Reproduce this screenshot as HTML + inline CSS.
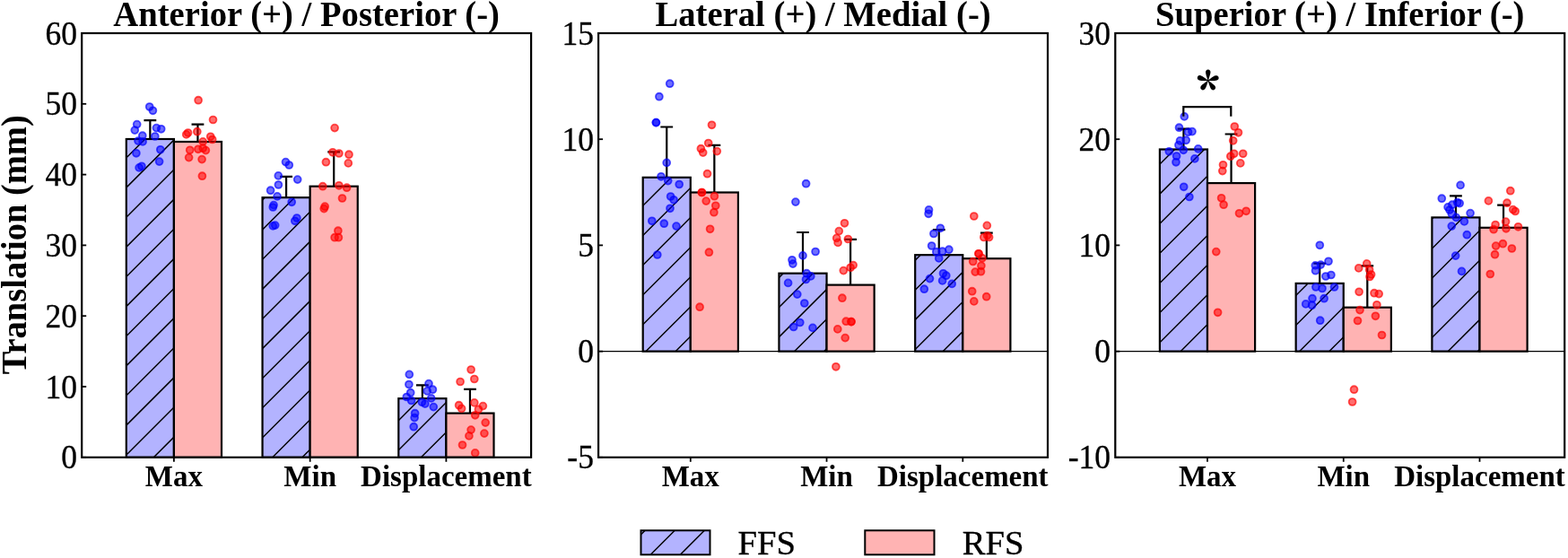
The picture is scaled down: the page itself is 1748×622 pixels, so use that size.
<!DOCTYPE html><html><head><meta charset="utf-8"><title>Translation</title><style>html,body{margin:0;padding:0;background:#fff;width:1748px;height:622px;overflow:hidden}svg{display:block}text{font-family:"Liberation Serif",serif}</style></head><body>
<svg width="1748" height="622" viewBox="0 0 1748 622">
<defs><clipPath id="c0"><rect x="140.8" y="155" width="53.1" height="354.8"/></clipPath><clipPath id="c1"><rect x="292.55" y="220.2" width="53.1" height="289.6"/></clipPath><clipPath id="c2"><rect x="444.3" y="444.2" width="53.1" height="65.6"/></clipPath><clipPath id="c3"><rect x="716.7" y="197.8" width="53.1" height="193.8"/></clipPath><clipPath id="c4"><rect x="868.45" y="304.7" width="53.1" height="86.9"/></clipPath><clipPath id="c5"><rect x="1020.2" y="284.2" width="53.1" height="107.4"/></clipPath><clipPath id="c6"><rect x="1292.9" y="166.5" width="53.1" height="225.1"/></clipPath><clipPath id="c7"><rect x="1444.65" y="315.9" width="53.1" height="75.7"/></clipPath><clipPath id="c8"><rect x="1596.4" y="242.4" width="53.1" height="149.2"/></clipPath><clipPath id="c9"><rect x="714.5" y="591.3" width="77" height="27"/></clipPath></defs>
<rect width="1748" height="622" fill="#fff"/>
<path d="M167.35,155 V134.2 M160.45,134.2 H174.25" stroke="#000" stroke-width="2.2" fill="none"/>
<rect x="140.8" y="155" width="53.1" height="354.8" fill="#b3b3ff"/>
<path clip-path="url(#c0)" d="M137.8,145.86 L196.9,86.76 M137.8,178.98 L196.9,119.88 M137.8,212.1 L196.9,153 M137.8,245.22 L196.9,186.12 M137.8,278.34 L196.9,219.24 M137.8,311.46 L196.9,252.36 M137.8,344.58 L196.9,285.48 M137.8,377.7 L196.9,318.6 M137.8,410.82 L196.9,351.72 M137.8,443.94 L196.9,384.84 M137.8,477.06 L196.9,417.96 M137.8,510.18 L196.9,451.08 M137.8,543.3 L196.9,484.2 M137.8,576.42 L196.9,517.32" stroke="#000" stroke-width="1.45" fill="none"/>
<rect x="140.8" y="155" width="53.1" height="354.8" fill="none" stroke="#000" stroke-width="2.2"/>
<path d="M220.45,158 V138.6 M213.55,138.6 H227.35" stroke="#000" stroke-width="2.2" fill="none"/>
<rect x="193.9" y="158" width="53.1" height="351.8" fill="#ffb3b3"/>
<rect x="193.9" y="158" width="53.1" height="351.8" fill="none" stroke="#000" stroke-width="2.2"/>
<circle cx="166.7" cy="119" r="3.95" fill="rgba(0,0,255,0.57)" stroke="rgba(0,0,255,0.66)" stroke-width="1.8"/>
<circle cx="170.4" cy="123.3" r="3.95" fill="rgba(0,0,255,0.57)" stroke="rgba(0,0,255,0.66)" stroke-width="1.8"/>
<circle cx="152.7" cy="138.6" r="3.95" fill="rgba(0,0,255,0.57)" stroke="rgba(0,0,255,0.66)" stroke-width="1.8"/>
<circle cx="150.3" cy="145.1" r="3.95" fill="rgba(0,0,255,0.57)" stroke="rgba(0,0,255,0.66)" stroke-width="1.8"/>
<circle cx="174.4" cy="142.6" r="3.95" fill="rgba(0,0,255,0.57)" stroke="rgba(0,0,255,0.66)" stroke-width="1.8"/>
<circle cx="179.7" cy="143.8" r="3.95" fill="rgba(0,0,255,0.57)" stroke="rgba(0,0,255,0.66)" stroke-width="1.8"/>
<circle cx="158.8" cy="151.2" r="3.95" fill="rgba(0,0,255,0.57)" stroke="rgba(0,0,255,0.66)" stroke-width="1.8"/>
<circle cx="172.8" cy="152" r="3.95" fill="rgba(0,0,255,0.57)" stroke="rgba(0,0,255,0.66)" stroke-width="1.8"/>
<circle cx="154" cy="157.1" r="3.95" fill="rgba(0,0,255,0.57)" stroke="rgba(0,0,255,0.66)" stroke-width="1.8"/>
<circle cx="159.1" cy="157.9" r="3.95" fill="rgba(0,0,255,0.57)" stroke="rgba(0,0,255,0.66)" stroke-width="1.8"/>
<circle cx="151.9" cy="170.8" r="3.95" fill="rgba(0,0,255,0.57)" stroke="rgba(0,0,255,0.66)" stroke-width="1.8"/>
<circle cx="178.8" cy="166.8" r="3.95" fill="rgba(0,0,255,0.57)" stroke="rgba(0,0,255,0.66)" stroke-width="1.8"/>
<circle cx="177.6" cy="180.1" r="3.95" fill="rgba(0,0,255,0.57)" stroke="rgba(0,0,255,0.66)" stroke-width="1.8"/>
<circle cx="155.1" cy="186.9" r="3.95" fill="rgba(0,0,255,0.57)" stroke="rgba(0,0,255,0.66)" stroke-width="1.8"/>
<circle cx="157.9" cy="185.3" r="3.95" fill="rgba(0,0,255,0.57)" stroke="rgba(0,0,255,0.66)" stroke-width="1.8"/>
<circle cx="221.1" cy="111.7" r="3.95" fill="rgba(255,0,0,0.57)" stroke="rgba(255,0,0,0.66)" stroke-width="1.8"/>
<circle cx="237.5" cy="133.5" r="3.95" fill="rgba(255,0,0,0.57)" stroke="rgba(255,0,0,0.66)" stroke-width="1.8"/>
<circle cx="209.6" cy="148" r="3.95" fill="rgba(255,0,0,0.57)" stroke="rgba(255,0,0,0.66)" stroke-width="1.8"/>
<circle cx="207.7" cy="149.9" r="3.95" fill="rgba(255,0,0,0.57)" stroke="rgba(255,0,0,0.66)" stroke-width="1.8"/>
<circle cx="219.8" cy="146.7" r="3.95" fill="rgba(255,0,0,0.57)" stroke="rgba(255,0,0,0.66)" stroke-width="1.8"/>
<circle cx="234.7" cy="152.3" r="3.95" fill="rgba(255,0,0,0.57)" stroke="rgba(255,0,0,0.66)" stroke-width="1.8"/>
<circle cx="236.7" cy="155.5" r="3.95" fill="rgba(255,0,0,0.57)" stroke="rgba(255,0,0,0.66)" stroke-width="1.8"/>
<circle cx="226.2" cy="157.9" r="3.95" fill="rgba(255,0,0,0.57)" stroke="rgba(255,0,0,0.66)" stroke-width="1.8"/>
<circle cx="211.7" cy="167.3" r="3.95" fill="rgba(255,0,0,0.57)" stroke="rgba(255,0,0,0.66)" stroke-width="1.8"/>
<circle cx="220.9" cy="166.3" r="3.95" fill="rgba(255,0,0,0.57)" stroke="rgba(255,0,0,0.66)" stroke-width="1.8"/>
<circle cx="226.2" cy="165.2" r="3.95" fill="rgba(255,0,0,0.57)" stroke="rgba(255,0,0,0.66)" stroke-width="1.8"/>
<circle cx="229.4" cy="167.6" r="3.95" fill="rgba(255,0,0,0.57)" stroke="rgba(255,0,0,0.66)" stroke-width="1.8"/>
<circle cx="210.6" cy="175.6" r="3.95" fill="rgba(255,0,0,0.57)" stroke="rgba(255,0,0,0.66)" stroke-width="1.8"/>
<circle cx="225.1" cy="177.6" r="3.95" fill="rgba(255,0,0,0.57)" stroke="rgba(255,0,0,0.66)" stroke-width="1.8"/>
<circle cx="225.4" cy="196.2" r="3.95" fill="rgba(255,0,0,0.57)" stroke="rgba(255,0,0,0.66)" stroke-width="1.8"/>
<line x1="193.9" y1="509.8" x2="193.9" y2="514.8" stroke="#000" stroke-width="1.8"/>
<path d="M319.1,220.2 V196.9 M312.2,196.9 H326" stroke="#000" stroke-width="2.2" fill="none"/>
<rect x="292.55" y="220.2" width="53.1" height="289.6" fill="#b3b3ff"/>
<path clip-path="url(#c1)" d="M289.55,192.83 L348.65,133.73 M289.55,225.95 L348.65,166.85 M289.55,259.07 L348.65,199.97 M289.55,292.19 L348.65,233.09 M289.55,325.31 L348.65,266.21 M289.55,358.43 L348.65,299.33 M289.55,391.55 L348.65,332.45 M289.55,424.67 L348.65,365.57 M289.55,457.79 L348.65,398.69 M289.55,490.91 L348.65,431.81 M289.55,524.03 L348.65,464.93 M289.55,557.15 L348.65,498.05 M289.55,590.27 L348.65,531.17" stroke="#000" stroke-width="1.45" fill="none"/>
<rect x="292.55" y="220.2" width="53.1" height="289.6" fill="none" stroke="#000" stroke-width="2.2"/>
<path d="M372.2,207.7 V169.3 M365.3,169.3 H379.1" stroke="#000" stroke-width="2.2" fill="none"/>
<rect x="345.65" y="207.7" width="53.1" height="302.1" fill="#ffb3b3"/>
<rect x="345.65" y="207.7" width="53.1" height="302.1" fill="none" stroke="#000" stroke-width="2.2"/>
<circle cx="318.5" cy="180.6" r="3.95" fill="rgba(0,0,255,0.57)" stroke="rgba(0,0,255,0.66)" stroke-width="1.8"/>
<circle cx="322.3" cy="184" r="3.95" fill="rgba(0,0,255,0.57)" stroke="rgba(0,0,255,0.66)" stroke-width="1.8"/>
<circle cx="310.3" cy="195.9" r="3.95" fill="rgba(0,0,255,0.57)" stroke="rgba(0,0,255,0.66)" stroke-width="1.8"/>
<circle cx="331.7" cy="200.1" r="3.95" fill="rgba(0,0,255,0.57)" stroke="rgba(0,0,255,0.66)" stroke-width="1.8"/>
<circle cx="310.4" cy="206" r="3.95" fill="rgba(0,0,255,0.57)" stroke="rgba(0,0,255,0.66)" stroke-width="1.8"/>
<circle cx="301.6" cy="212.2" r="3.95" fill="rgba(0,0,255,0.57)" stroke="rgba(0,0,255,0.66)" stroke-width="1.8"/>
<circle cx="309.1" cy="218.9" r="3.95" fill="rgba(0,0,255,0.57)" stroke="rgba(0,0,255,0.66)" stroke-width="1.8"/>
<circle cx="305.1" cy="228.6" r="3.95" fill="rgba(0,0,255,0.57)" stroke="rgba(0,0,255,0.66)" stroke-width="1.8"/>
<circle cx="304.3" cy="231" r="3.95" fill="rgba(0,0,255,0.57)" stroke="rgba(0,0,255,0.66)" stroke-width="1.8"/>
<circle cx="325.2" cy="225.3" r="3.95" fill="rgba(0,0,255,0.57)" stroke="rgba(0,0,255,0.66)" stroke-width="1.8"/>
<circle cx="330.9" cy="243" r="3.95" fill="rgba(0,0,255,0.57)" stroke="rgba(0,0,255,0.66)" stroke-width="1.8"/>
<circle cx="328.8" cy="246.3" r="3.95" fill="rgba(0,0,255,0.57)" stroke="rgba(0,0,255,0.66)" stroke-width="1.8"/>
<circle cx="304.3" cy="251.9" r="3.95" fill="rgba(0,0,255,0.57)" stroke="rgba(0,0,255,0.66)" stroke-width="1.8"/>
<circle cx="306.7" cy="251.1" r="3.95" fill="rgba(0,0,255,0.57)" stroke="rgba(0,0,255,0.66)" stroke-width="1.8"/>
<circle cx="373.1" cy="142.6" r="3.95" fill="rgba(255,0,0,0.57)" stroke="rgba(255,0,0,0.66)" stroke-width="1.8"/>
<circle cx="370.9" cy="169.8" r="3.95" fill="rgba(255,0,0,0.57)" stroke="rgba(255,0,0,0.66)" stroke-width="1.8"/>
<circle cx="377.9" cy="171" r="3.95" fill="rgba(255,0,0,0.57)" stroke="rgba(255,0,0,0.66)" stroke-width="1.8"/>
<circle cx="389" cy="172.2" r="3.95" fill="rgba(255,0,0,0.57)" stroke="rgba(255,0,0,0.66)" stroke-width="1.8"/>
<circle cx="363.4" cy="180.7" r="3.95" fill="rgba(255,0,0,0.57)" stroke="rgba(255,0,0,0.66)" stroke-width="1.8"/>
<circle cx="388.3" cy="181.9" r="3.95" fill="rgba(255,0,0,0.57)" stroke="rgba(255,0,0,0.66)" stroke-width="1.8"/>
<circle cx="359.8" cy="207.7" r="3.95" fill="rgba(255,0,0,0.57)" stroke="rgba(255,0,0,0.66)" stroke-width="1.8"/>
<circle cx="377.9" cy="206.8" r="3.95" fill="rgba(255,0,0,0.57)" stroke="rgba(255,0,0,0.66)" stroke-width="1.8"/>
<circle cx="386.6" cy="209.2" r="3.95" fill="rgba(255,0,0,0.57)" stroke="rgba(255,0,0,0.66)" stroke-width="1.8"/>
<circle cx="381.5" cy="221" r="3.95" fill="rgba(255,0,0,0.57)" stroke="rgba(255,0,0,0.66)" stroke-width="1.8"/>
<circle cx="362.2" cy="230.2" r="3.95" fill="rgba(255,0,0,0.57)" stroke="rgba(255,0,0,0.66)" stroke-width="1.8"/>
<circle cx="361.2" cy="232.6" r="3.95" fill="rgba(255,0,0,0.57)" stroke="rgba(255,0,0,0.66)" stroke-width="1.8"/>
<circle cx="376.9" cy="257.2" r="3.95" fill="rgba(255,0,0,0.57)" stroke="rgba(255,0,0,0.66)" stroke-width="1.8"/>
<circle cx="373.1" cy="264.7" r="3.95" fill="rgba(255,0,0,0.57)" stroke="rgba(255,0,0,0.66)" stroke-width="1.8"/>
<circle cx="377.4" cy="264.7" r="3.95" fill="rgba(255,0,0,0.57)" stroke="rgba(255,0,0,0.66)" stroke-width="1.8"/>
<line x1="345.65" y1="509.8" x2="345.65" y2="514.8" stroke="#000" stroke-width="1.8"/>
<path d="M470.85,444.2 V429.4 M463.95,429.4 H477.75" stroke="#000" stroke-width="2.2" fill="none"/>
<rect x="444.3" y="444.2" width="53.1" height="65.6" fill="#b3b3ff"/>
<path clip-path="url(#c2)" d="M441.3,438.52 L500.4,379.42 M441.3,471.64 L500.4,412.54 M441.3,504.76 L500.4,445.66 M441.3,537.88 L500.4,478.78 M441.3,571 L500.4,511.9" stroke="#000" stroke-width="1.45" fill="none"/>
<rect x="444.3" y="444.2" width="53.1" height="65.6" fill="none" stroke="#000" stroke-width="2.2"/>
<path d="M523.95,460.6 V433.8 M517.05,433.8 H530.85" stroke="#000" stroke-width="2.2" fill="none"/>
<rect x="497.4" y="460.6" width="53.1" height="49.2" fill="#ffb3b3"/>
<rect x="497.4" y="460.6" width="53.1" height="49.2" fill="none" stroke="#000" stroke-width="2.2"/>
<circle cx="456.3" cy="417.4" r="3.95" fill="rgba(0,0,255,0.57)" stroke="rgba(0,0,255,0.66)" stroke-width="1.8"/>
<circle cx="455.9" cy="428.5" r="3.95" fill="rgba(0,0,255,0.57)" stroke="rgba(0,0,255,0.66)" stroke-width="1.8"/>
<circle cx="478" cy="427.6" r="3.95" fill="rgba(0,0,255,0.57)" stroke="rgba(0,0,255,0.66)" stroke-width="1.8"/>
<circle cx="482.4" cy="434.2" r="3.95" fill="rgba(0,0,255,0.57)" stroke="rgba(0,0,255,0.66)" stroke-width="1.8"/>
<circle cx="476.2" cy="435.9" r="3.95" fill="rgba(0,0,255,0.57)" stroke="rgba(0,0,255,0.66)" stroke-width="1.8"/>
<circle cx="457.7" cy="437.7" r="3.95" fill="rgba(0,0,255,0.57)" stroke="rgba(0,0,255,0.66)" stroke-width="1.8"/>
<circle cx="453.3" cy="442.5" r="3.95" fill="rgba(0,0,255,0.57)" stroke="rgba(0,0,255,0.66)" stroke-width="1.8"/>
<circle cx="458.6" cy="446.5" r="3.95" fill="rgba(0,0,255,0.57)" stroke="rgba(0,0,255,0.66)" stroke-width="1.8"/>
<circle cx="480.7" cy="443.9" r="3.95" fill="rgba(0,0,255,0.57)" stroke="rgba(0,0,255,0.66)" stroke-width="1.8"/>
<circle cx="470.4" cy="448.3" r="3.95" fill="rgba(0,0,255,0.57)" stroke="rgba(0,0,255,0.66)" stroke-width="1.8"/>
<circle cx="473.9" cy="450.1" r="3.95" fill="rgba(0,0,255,0.57)" stroke="rgba(0,0,255,0.66)" stroke-width="1.8"/>
<circle cx="483.3" cy="453.6" r="3.95" fill="rgba(0,0,255,0.57)" stroke="rgba(0,0,255,0.66)" stroke-width="1.8"/>
<circle cx="462.6" cy="460.7" r="3.95" fill="rgba(0,0,255,0.57)" stroke="rgba(0,0,255,0.66)" stroke-width="1.8"/>
<circle cx="462.1" cy="465.6" r="3.95" fill="rgba(0,0,255,0.57)" stroke="rgba(0,0,255,0.66)" stroke-width="1.8"/>
<circle cx="461.2" cy="475.7" r="3.95" fill="rgba(0,0,255,0.57)" stroke="rgba(0,0,255,0.66)" stroke-width="1.8"/>
<circle cx="525.1" cy="412" r="3.95" fill="rgba(255,0,0,0.57)" stroke="rgba(255,0,0,0.66)" stroke-width="1.8"/>
<circle cx="513.1" cy="425.5" r="3.95" fill="rgba(255,0,0,0.57)" stroke="rgba(255,0,0,0.66)" stroke-width="1.8"/>
<circle cx="528.8" cy="422.5" r="3.95" fill="rgba(255,0,0,0.57)" stroke="rgba(255,0,0,0.66)" stroke-width="1.8"/>
<circle cx="511.6" cy="451.7" r="3.95" fill="rgba(255,0,0,0.57)" stroke="rgba(255,0,0,0.66)" stroke-width="1.8"/>
<circle cx="514.6" cy="455.4" r="3.95" fill="rgba(255,0,0,0.57)" stroke="rgba(255,0,0,0.66)" stroke-width="1.8"/>
<circle cx="528.8" cy="448.9" r="3.95" fill="rgba(255,0,0,0.57)" stroke="rgba(255,0,0,0.66)" stroke-width="1.8"/>
<circle cx="538.4" cy="452.6" r="3.95" fill="rgba(255,0,0,0.57)" stroke="rgba(255,0,0,0.66)" stroke-width="1.8"/>
<circle cx="533.4" cy="456.3" r="3.95" fill="rgba(255,0,0,0.57)" stroke="rgba(255,0,0,0.66)" stroke-width="1.8"/>
<circle cx="529.7" cy="462.8" r="3.95" fill="rgba(255,0,0,0.57)" stroke="rgba(255,0,0,0.66)" stroke-width="1.8"/>
<circle cx="541.2" cy="471.1" r="3.95" fill="rgba(255,0,0,0.57)" stroke="rgba(255,0,0,0.66)" stroke-width="1.8"/>
<circle cx="525.1" cy="479.1" r="3.95" fill="rgba(255,0,0,0.57)" stroke="rgba(255,0,0,0.66)" stroke-width="1.8"/>
<circle cx="522.9" cy="485.9" r="3.95" fill="rgba(255,0,0,0.57)" stroke="rgba(255,0,0,0.66)" stroke-width="1.8"/>
<circle cx="539.9" cy="483.1" r="3.95" fill="rgba(255,0,0,0.57)" stroke="rgba(255,0,0,0.66)" stroke-width="1.8"/>
<circle cx="515.5" cy="496" r="3.95" fill="rgba(255,0,0,0.57)" stroke="rgba(255,0,0,0.66)" stroke-width="1.8"/>
<circle cx="529.7" cy="504.9" r="3.95" fill="rgba(255,0,0,0.57)" stroke="rgba(255,0,0,0.66)" stroke-width="1.8"/>
<line x1="497.4" y1="509.8" x2="497.4" y2="514.8" stroke="#000" stroke-width="1.8"/>
<rect x="91.2" y="37" width="500.9" height="472.8" fill="none" stroke="#000" stroke-width="2.2"/>
<line x1="91.2" y1="509.8" x2="96.2" y2="509.8" stroke="#000" stroke-width="1.8"/>
<text transform="translate(86,522.3) scale(0.96,1)" font-size="37" text-anchor="end" stroke="#000" stroke-width="0.35">0</text>
<line x1="91.2" y1="431" x2="96.2" y2="431" stroke="#000" stroke-width="1.8"/>
<text transform="translate(86,443.5) scale(0.96,1)" font-size="37" text-anchor="end" stroke="#000" stroke-width="0.35">10</text>
<line x1="91.2" y1="352.2" x2="96.2" y2="352.2" stroke="#000" stroke-width="1.8"/>
<text transform="translate(86,364.7) scale(0.96,1)" font-size="37" text-anchor="end" stroke="#000" stroke-width="0.35">20</text>
<line x1="91.2" y1="273.4" x2="96.2" y2="273.4" stroke="#000" stroke-width="1.8"/>
<text transform="translate(86,285.9) scale(0.96,1)" font-size="37" text-anchor="end" stroke="#000" stroke-width="0.35">30</text>
<line x1="91.2" y1="194.6" x2="96.2" y2="194.6" stroke="#000" stroke-width="1.8"/>
<text transform="translate(86,207.1) scale(0.96,1)" font-size="37" text-anchor="end" stroke="#000" stroke-width="0.35">40</text>
<line x1="91.2" y1="115.8" x2="96.2" y2="115.8" stroke="#000" stroke-width="1.8"/>
<text transform="translate(86,128.3) scale(0.96,1)" font-size="37" text-anchor="end" stroke="#000" stroke-width="0.35">50</text>
<line x1="91.2" y1="37" x2="96.2" y2="37" stroke="#000" stroke-width="1.8"/>
<text transform="translate(86,49.5) scale(0.96,1)" font-size="37" text-anchor="end" stroke="#000" stroke-width="0.35">60</text>
<text transform="translate(341.65,29.0) scale(0.979,1)" font-size="39.5" font-weight="bold" text-anchor="middle">Anterior (+) / Posterior (-)</text>
<text x="193.9" y="542.3" font-size="33" font-weight="bold" text-anchor="middle">Max</text>
<text x="345.65" y="542.3" font-size="33" font-weight="bold" text-anchor="middle">Min</text>
<text x="497.4" y="542.3" font-size="33" font-weight="bold" text-anchor="middle">Displacement</text>
<line x1="667.1" y1="391.6" x2="1168" y2="391.6" stroke="#000" stroke-width="1.1"/>
<path d="M743.25,197.8 V141.5 M736.35,141.5 H750.15" stroke="#000" stroke-width="2.2" fill="none"/>
<rect x="716.7" y="197.8" width="53.1" height="193.8" fill="#b3b3ff"/>
<path clip-path="url(#c3)" d="M713.7,199.24 L772.8,140.14 M713.7,232.36 L772.8,173.26 M713.7,265.48 L772.8,206.38 M713.7,298.6 L772.8,239.5 M713.7,331.72 L772.8,272.62 M713.7,364.84 L772.8,305.74 M713.7,397.96 L772.8,338.86 M713.7,431.08 L772.8,371.98 M713.7,464.2 L772.8,405.1" stroke="#000" stroke-width="1.45" fill="none"/>
<rect x="716.7" y="197.8" width="53.1" height="193.8" fill="none" stroke="#000" stroke-width="2.2"/>
<path d="M796.35,214.5 V161.8 M789.45,161.8 H803.25" stroke="#000" stroke-width="2.2" fill="none"/>
<rect x="769.8" y="214.5" width="53.1" height="177.1" fill="#ffb3b3"/>
<rect x="769.8" y="214.5" width="53.1" height="177.1" fill="none" stroke="#000" stroke-width="2.2"/>
<circle cx="746.7" cy="93.2" r="3.95" fill="rgba(0,0,255,0.57)" stroke="rgba(0,0,255,0.66)" stroke-width="1.8"/>
<circle cx="734.9" cy="107.7" r="3.95" fill="rgba(0,0,255,0.57)" stroke="rgba(0,0,255,0.66)" stroke-width="1.8"/>
<circle cx="731.4" cy="136.6" r="3.95" fill="rgba(0,0,255,0.57)" stroke="rgba(0,0,255,0.66)" stroke-width="1.8"/>
<circle cx="731.4" cy="136.6" r="3.95" fill="rgba(0,0,255,0.57)" stroke="rgba(0,0,255,0.66)" stroke-width="1.8"/>
<circle cx="743.2" cy="181.4" r="3.95" fill="rgba(0,0,255,0.57)" stroke="rgba(0,0,255,0.66)" stroke-width="1.8"/>
<circle cx="737" cy="196.8" r="3.95" fill="rgba(0,0,255,0.57)" stroke="rgba(0,0,255,0.66)" stroke-width="1.8"/>
<circle cx="744.7" cy="201.6" r="3.95" fill="rgba(0,0,255,0.57)" stroke="rgba(0,0,255,0.66)" stroke-width="1.8"/>
<circle cx="757.2" cy="205.5" r="3.95" fill="rgba(0,0,255,0.57)" stroke="rgba(0,0,255,0.66)" stroke-width="1.8"/>
<circle cx="747.6" cy="219" r="3.95" fill="rgba(0,0,255,0.57)" stroke="rgba(0,0,255,0.66)" stroke-width="1.8"/>
<circle cx="751.1" cy="222.8" r="3.95" fill="rgba(0,0,255,0.57)" stroke="rgba(0,0,255,0.66)" stroke-width="1.8"/>
<circle cx="747" cy="232.3" r="3.95" fill="rgba(0,0,255,0.57)" stroke="rgba(0,0,255,0.66)" stroke-width="1.8"/>
<circle cx="726.8" cy="246.3" r="3.95" fill="rgba(0,0,255,0.57)" stroke="rgba(0,0,255,0.66)" stroke-width="1.8"/>
<circle cx="740.3" cy="249.2" r="3.95" fill="rgba(0,0,255,0.57)" stroke="rgba(0,0,255,0.66)" stroke-width="1.8"/>
<circle cx="754" cy="252.1" r="3.95" fill="rgba(0,0,255,0.57)" stroke="rgba(0,0,255,0.66)" stroke-width="1.8"/>
<circle cx="732.8" cy="284" r="3.95" fill="rgba(0,0,255,0.57)" stroke="rgba(0,0,255,0.66)" stroke-width="1.8"/>
<circle cx="793.5" cy="139.3" r="3.95" fill="rgba(255,0,0,0.57)" stroke="rgba(255,0,0,0.66)" stroke-width="1.8"/>
<circle cx="789.7" cy="159.5" r="3.95" fill="rgba(255,0,0,0.57)" stroke="rgba(255,0,0,0.66)" stroke-width="1.8"/>
<circle cx="781.4" cy="165.7" r="3.95" fill="rgba(255,0,0,0.57)" stroke="rgba(255,0,0,0.66)" stroke-width="1.8"/>
<circle cx="783.7" cy="170.1" r="3.95" fill="rgba(255,0,0,0.57)" stroke="rgba(255,0,0,0.66)" stroke-width="1.8"/>
<circle cx="799.3" cy="168.6" r="3.95" fill="rgba(255,0,0,0.57)" stroke="rgba(255,0,0,0.66)" stroke-width="1.8"/>
<circle cx="788.5" cy="193.7" r="3.95" fill="rgba(255,0,0,0.57)" stroke="rgba(255,0,0,0.66)" stroke-width="1.8"/>
<circle cx="782.4" cy="214.5" r="3.95" fill="rgba(255,0,0,0.57)" stroke="rgba(255,0,0,0.66)" stroke-width="1.8"/>
<circle cx="782.4" cy="214.5" r="3.95" fill="rgba(255,0,0,0.57)" stroke="rgba(255,0,0,0.66)" stroke-width="1.8"/>
<circle cx="787.2" cy="224.1" r="3.95" fill="rgba(255,0,0,0.57)" stroke="rgba(255,0,0,0.66)" stroke-width="1.8"/>
<circle cx="796.4" cy="218.7" r="3.95" fill="rgba(255,0,0,0.57)" stroke="rgba(255,0,0,0.66)" stroke-width="1.8"/>
<circle cx="797.8" cy="229.3" r="3.95" fill="rgba(255,0,0,0.57)" stroke="rgba(255,0,0,0.66)" stroke-width="1.8"/>
<circle cx="795.9" cy="236.7" r="3.95" fill="rgba(255,0,0,0.57)" stroke="rgba(255,0,0,0.66)" stroke-width="1.8"/>
<circle cx="791.6" cy="255.3" r="3.95" fill="rgba(255,0,0,0.57)" stroke="rgba(255,0,0,0.66)" stroke-width="1.8"/>
<circle cx="790.4" cy="281.2" r="3.95" fill="rgba(255,0,0,0.57)" stroke="rgba(255,0,0,0.66)" stroke-width="1.8"/>
<circle cx="780.1" cy="342.2" r="3.95" fill="rgba(255,0,0,0.57)" stroke="rgba(255,0,0,0.66)" stroke-width="1.8"/>
<line x1="769.8" y1="509.8" x2="769.8" y2="514.8" stroke="#000" stroke-width="1.8"/>
<path d="M895,304.7 V259 M888.1,259 H901.9" stroke="#000" stroke-width="2.2" fill="none"/>
<rect x="868.45" y="304.7" width="53.1" height="86.9" fill="#b3b3ff"/>
<path clip-path="url(#c4)" d="M865.45,279.33 L924.55,220.23 M865.45,312.45 L924.55,253.35 M865.45,345.57 L924.55,286.47 M865.45,378.69 L924.55,319.59 M865.45,411.81 L924.55,352.71 M865.45,444.93 L924.55,385.83 M865.45,478.05 L924.55,418.95" stroke="#000" stroke-width="1.45" fill="none"/>
<rect x="868.45" y="304.7" width="53.1" height="86.9" fill="none" stroke="#000" stroke-width="2.2"/>
<path d="M948.1,317.6 V266.8 M941.2,266.8 H955" stroke="#000" stroke-width="2.2" fill="none"/>
<rect x="921.55" y="317.6" width="53.1" height="74" fill="#ffb3b3"/>
<rect x="921.55" y="317.6" width="53.1" height="74" fill="none" stroke="#000" stroke-width="2.2"/>
<circle cx="898.6" cy="204.7" r="3.95" fill="rgba(0,0,255,0.57)" stroke="rgba(0,0,255,0.66)" stroke-width="1.8"/>
<circle cx="886.9" cy="225.1" r="3.95" fill="rgba(0,0,255,0.57)" stroke="rgba(0,0,255,0.66)" stroke-width="1.8"/>
<circle cx="909.1" cy="280.5" r="3.95" fill="rgba(0,0,255,0.57)" stroke="rgba(0,0,255,0.66)" stroke-width="1.8"/>
<circle cx="895" cy="284.9" r="3.95" fill="rgba(0,0,255,0.57)" stroke="rgba(0,0,255,0.66)" stroke-width="1.8"/>
<circle cx="883" cy="289.8" r="3.95" fill="rgba(0,0,255,0.57)" stroke="rgba(0,0,255,0.66)" stroke-width="1.8"/>
<circle cx="883.9" cy="294.1" r="3.95" fill="rgba(0,0,255,0.57)" stroke="rgba(0,0,255,0.66)" stroke-width="1.8"/>
<circle cx="899.2" cy="304.7" r="3.95" fill="rgba(0,0,255,0.57)" stroke="rgba(0,0,255,0.66)" stroke-width="1.8"/>
<circle cx="903.8" cy="307.9" r="3.95" fill="rgba(0,0,255,0.57)" stroke="rgba(0,0,255,0.66)" stroke-width="1.8"/>
<circle cx="898.5" cy="311.5" r="3.95" fill="rgba(0,0,255,0.57)" stroke="rgba(0,0,255,0.66)" stroke-width="1.8"/>
<circle cx="878.6" cy="315.4" r="3.95" fill="rgba(0,0,255,0.57)" stroke="rgba(0,0,255,0.66)" stroke-width="1.8"/>
<circle cx="888.8" cy="328.1" r="3.95" fill="rgba(0,0,255,0.57)" stroke="rgba(0,0,255,0.66)" stroke-width="1.8"/>
<circle cx="896.8" cy="338" r="3.95" fill="rgba(0,0,255,0.57)" stroke="rgba(0,0,255,0.66)" stroke-width="1.8"/>
<circle cx="891.8" cy="359.5" r="3.95" fill="rgba(0,0,255,0.57)" stroke="rgba(0,0,255,0.66)" stroke-width="1.8"/>
<circle cx="884.7" cy="364.5" r="3.95" fill="rgba(0,0,255,0.57)" stroke="rgba(0,0,255,0.66)" stroke-width="1.8"/>
<circle cx="906" cy="365.4" r="3.95" fill="rgba(0,0,255,0.57)" stroke="rgba(0,0,255,0.66)" stroke-width="1.8"/>
<circle cx="941.5" cy="248.8" r="3.95" fill="rgba(255,0,0,0.57)" stroke="rgba(255,0,0,0.66)" stroke-width="1.8"/>
<circle cx="935.3" cy="257.6" r="3.95" fill="rgba(255,0,0,0.57)" stroke="rgba(255,0,0,0.66)" stroke-width="1.8"/>
<circle cx="932.7" cy="265.4" r="3.95" fill="rgba(255,0,0,0.57)" stroke="rgba(255,0,0,0.66)" stroke-width="1.8"/>
<circle cx="934.1" cy="270.4" r="3.95" fill="rgba(255,0,0,0.57)" stroke="rgba(255,0,0,0.66)" stroke-width="1.8"/>
<circle cx="945.4" cy="266.5" r="3.95" fill="rgba(255,0,0,0.57)" stroke="rgba(255,0,0,0.66)" stroke-width="1.8"/>
<circle cx="951.2" cy="295.6" r="3.95" fill="rgba(255,0,0,0.57)" stroke="rgba(255,0,0,0.66)" stroke-width="1.8"/>
<circle cx="948.1" cy="298.3" r="3.95" fill="rgba(255,0,0,0.57)" stroke="rgba(255,0,0,0.66)" stroke-width="1.8"/>
<circle cx="940.3" cy="301.6" r="3.95" fill="rgba(255,0,0,0.57)" stroke="rgba(255,0,0,0.66)" stroke-width="1.8"/>
<circle cx="938.9" cy="332.2" r="3.95" fill="rgba(255,0,0,0.57)" stroke="rgba(255,0,0,0.66)" stroke-width="1.8"/>
<circle cx="943.2" cy="358.2" r="3.95" fill="rgba(255,0,0,0.57)" stroke="rgba(255,0,0,0.66)" stroke-width="1.8"/>
<circle cx="949" cy="358.6" r="3.95" fill="rgba(255,0,0,0.57)" stroke="rgba(255,0,0,0.66)" stroke-width="1.8"/>
<circle cx="949" cy="358.6" r="3.95" fill="rgba(255,0,0,0.57)" stroke="rgba(255,0,0,0.66)" stroke-width="1.8"/>
<circle cx="933.8" cy="366.9" r="3.95" fill="rgba(255,0,0,0.57)" stroke="rgba(255,0,0,0.66)" stroke-width="1.8"/>
<circle cx="942.2" cy="376.6" r="3.95" fill="rgba(255,0,0,0.57)" stroke="rgba(255,0,0,0.66)" stroke-width="1.8"/>
<circle cx="931.9" cy="408.8" r="3.95" fill="rgba(255,0,0,0.57)" stroke="rgba(255,0,0,0.66)" stroke-width="1.8"/>
<line x1="921.55" y1="509.8" x2="921.55" y2="514.8" stroke="#000" stroke-width="1.8"/>
<path d="M1046.75,284.2 V256.1 M1039.85,256.1 H1053.65" stroke="#000" stroke-width="2.2" fill="none"/>
<rect x="1020.2" y="284.2" width="53.1" height="107.4" fill="#b3b3ff"/>
<path clip-path="url(#c5)" d="M1017.2,260.06 L1076.3,200.96 M1017.2,293.18 L1076.3,234.08 M1017.2,326.3 L1076.3,267.2 M1017.2,359.42 L1076.3,300.32 M1017.2,392.54 L1076.3,333.44 M1017.2,425.66 L1076.3,366.56 M1017.2,458.78 L1076.3,399.68" stroke="#000" stroke-width="1.45" fill="none"/>
<rect x="1020.2" y="284.2" width="53.1" height="107.4" fill="none" stroke="#000" stroke-width="2.2"/>
<path d="M1099.85,288.2 V259.7 M1092.95,259.7 H1106.75" stroke="#000" stroke-width="2.2" fill="none"/>
<rect x="1073.3" y="288.2" width="53.1" height="103.4" fill="#ffb3b3"/>
<rect x="1073.3" y="288.2" width="53.1" height="103.4" fill="none" stroke="#000" stroke-width="2.2"/>
<circle cx="1035.5" cy="233.9" r="3.95" fill="rgba(0,0,255,0.57)" stroke="rgba(0,0,255,0.66)" stroke-width="1.8"/>
<circle cx="1035.1" cy="238.3" r="3.95" fill="rgba(0,0,255,0.57)" stroke="rgba(0,0,255,0.66)" stroke-width="1.8"/>
<circle cx="1048.3" cy="254.3" r="3.95" fill="rgba(0,0,255,0.57)" stroke="rgba(0,0,255,0.66)" stroke-width="1.8"/>
<circle cx="1040.9" cy="260.5" r="3.95" fill="rgba(0,0,255,0.57)" stroke="rgba(0,0,255,0.66)" stroke-width="1.8"/>
<circle cx="1038.6" cy="274" r="3.95" fill="rgba(0,0,255,0.57)" stroke="rgba(0,0,255,0.66)" stroke-width="1.8"/>
<circle cx="1043.8" cy="280.7" r="3.95" fill="rgba(0,0,255,0.57)" stroke="rgba(0,0,255,0.66)" stroke-width="1.8"/>
<circle cx="1050.6" cy="280.2" r="3.95" fill="rgba(0,0,255,0.57)" stroke="rgba(0,0,255,0.66)" stroke-width="1.8"/>
<circle cx="1057.9" cy="278.2" r="3.95" fill="rgba(0,0,255,0.57)" stroke="rgba(0,0,255,0.66)" stroke-width="1.8"/>
<circle cx="1046.7" cy="287.9" r="3.95" fill="rgba(0,0,255,0.57)" stroke="rgba(0,0,255,0.66)" stroke-width="1.8"/>
<circle cx="1051.5" cy="304.8" r="3.95" fill="rgba(0,0,255,0.57)" stroke="rgba(0,0,255,0.66)" stroke-width="1.8"/>
<circle cx="1054.8" cy="307.2" r="3.95" fill="rgba(0,0,255,0.57)" stroke="rgba(0,0,255,0.66)" stroke-width="1.8"/>
<circle cx="1050.6" cy="312.9" r="3.95" fill="rgba(0,0,255,0.57)" stroke="rgba(0,0,255,0.66)" stroke-width="1.8"/>
<circle cx="1036.5" cy="310.6" r="3.95" fill="rgba(0,0,255,0.57)" stroke="rgba(0,0,255,0.66)" stroke-width="1.8"/>
<circle cx="1061.2" cy="316.4" r="3.95" fill="rgba(0,0,255,0.57)" stroke="rgba(0,0,255,0.66)" stroke-width="1.8"/>
<circle cx="1030.3" cy="322.2" r="3.95" fill="rgba(0,0,255,0.57)" stroke="rgba(0,0,255,0.66)" stroke-width="1.8"/>
<circle cx="1091" cy="282.8" r="3.95" fill="rgba(255,0,0,0.57)" stroke="rgba(255,0,0,0.66)" stroke-width="1.8"/>
<circle cx="1085.8" cy="241" r="3.95" fill="rgba(255,0,0,0.57)" stroke="rgba(255,0,0,0.66)" stroke-width="1.8"/>
<circle cx="1100.3" cy="251.4" r="3.95" fill="rgba(255,0,0,0.57)" stroke="rgba(255,0,0,0.66)" stroke-width="1.8"/>
<circle cx="1096.8" cy="264.5" r="3.95" fill="rgba(255,0,0,0.57)" stroke="rgba(255,0,0,0.66)" stroke-width="1.8"/>
<circle cx="1102.6" cy="264.5" r="3.95" fill="rgba(255,0,0,0.57)" stroke="rgba(255,0,0,0.66)" stroke-width="1.8"/>
<circle cx="1100.7" cy="262.6" r="3.95" fill="rgba(255,0,0,0.57)" stroke="rgba(255,0,0,0.66)" stroke-width="1.8"/>
<circle cx="1091" cy="282.8" r="3.95" fill="rgba(255,0,0,0.57)" stroke="rgba(255,0,0,0.66)" stroke-width="1.8"/>
<circle cx="1094.9" cy="287.7" r="3.95" fill="rgba(255,0,0,0.57)" stroke="rgba(255,0,0,0.66)" stroke-width="1.8"/>
<circle cx="1084.7" cy="291.5" r="3.95" fill="rgba(255,0,0,0.57)" stroke="rgba(255,0,0,0.66)" stroke-width="1.8"/>
<circle cx="1093.9" cy="296.3" r="3.95" fill="rgba(255,0,0,0.57)" stroke="rgba(255,0,0,0.66)" stroke-width="1.8"/>
<circle cx="1087.2" cy="303.1" r="3.95" fill="rgba(255,0,0,0.57)" stroke="rgba(255,0,0,0.66)" stroke-width="1.8"/>
<circle cx="1093.5" cy="302.7" r="3.95" fill="rgba(255,0,0,0.57)" stroke="rgba(255,0,0,0.66)" stroke-width="1.8"/>
<circle cx="1083.7" cy="324.7" r="3.95" fill="rgba(255,0,0,0.57)" stroke="rgba(255,0,0,0.66)" stroke-width="1.8"/>
<circle cx="1099.7" cy="330.7" r="3.95" fill="rgba(255,0,0,0.57)" stroke="rgba(255,0,0,0.66)" stroke-width="1.8"/>
<circle cx="1085.8" cy="335.9" r="3.95" fill="rgba(255,0,0,0.57)" stroke="rgba(255,0,0,0.66)" stroke-width="1.8"/>
<line x1="1073.3" y1="509.8" x2="1073.3" y2="514.8" stroke="#000" stroke-width="1.8"/>
<rect x="667.1" y="37" width="500.9" height="472.8" fill="none" stroke="#000" stroke-width="2.2"/>
<line x1="667.1" y1="509.8" x2="672.1" y2="509.8" stroke="#000" stroke-width="1.8"/>
<text transform="translate(661.9,522.3) scale(0.96,1)" font-size="37" text-anchor="end" stroke="#000" stroke-width="0.35">-5</text>
<line x1="667.1" y1="391.6" x2="672.1" y2="391.6" stroke="#000" stroke-width="1.8"/>
<text transform="translate(661.9,404.1) scale(0.96,1)" font-size="37" text-anchor="end" stroke="#000" stroke-width="0.35">0</text>
<line x1="667.1" y1="273.4" x2="672.1" y2="273.4" stroke="#000" stroke-width="1.8"/>
<text transform="translate(661.9,285.9) scale(0.96,1)" font-size="37" text-anchor="end" stroke="#000" stroke-width="0.35">5</text>
<line x1="667.1" y1="155.2" x2="672.1" y2="155.2" stroke="#000" stroke-width="1.8"/>
<text transform="translate(661.9,167.7) scale(0.96,1)" font-size="37" text-anchor="end" stroke="#000" stroke-width="0.35">10</text>
<line x1="667.1" y1="37" x2="672.1" y2="37" stroke="#000" stroke-width="1.8"/>
<text transform="translate(661.9,49.5) scale(0.96,1)" font-size="37" text-anchor="end" stroke="#000" stroke-width="0.35">15</text>
<text transform="translate(917.55,29.0) scale(0.979,1)" font-size="39.5" font-weight="bold" text-anchor="middle">Lateral (+) / Medial (-)</text>
<text x="769.8" y="542.3" font-size="33" font-weight="bold" text-anchor="middle">Max</text>
<text x="921.55" y="542.3" font-size="33" font-weight="bold" text-anchor="middle">Min</text>
<text x="1073.3" y="542.3" font-size="33" font-weight="bold" text-anchor="middle">Displacement</text>
<line x1="1243.3" y1="391.6" x2="1744.2" y2="391.6" stroke="#000" stroke-width="1.1"/>
<path d="M1319.45,166.5 V143.7 M1312.55,143.7 H1326.35" stroke="#000" stroke-width="2.2" fill="none"/>
<rect x="1292.9" y="166.5" width="53.1" height="225.1" fill="#b3b3ff"/>
<path clip-path="url(#c6)" d="M1289.9,152.96 L1349,93.86 M1289.9,186.08 L1349,126.98 M1289.9,219.2 L1349,160.1 M1289.9,252.32 L1349,193.22 M1289.9,285.44 L1349,226.34 M1289.9,318.56 L1349,259.46 M1289.9,351.68 L1349,292.58 M1289.9,384.8 L1349,325.7 M1289.9,417.92 L1349,358.82 M1289.9,451.04 L1349,391.94" stroke="#000" stroke-width="1.45" fill="none"/>
<rect x="1292.9" y="166.5" width="53.1" height="225.1" fill="none" stroke="#000" stroke-width="2.2"/>
<path d="M1372.55,204.1 V149.5 M1365.65,149.5 H1379.45" stroke="#000" stroke-width="2.2" fill="none"/>
<rect x="1346" y="204.1" width="53.1" height="187.5" fill="#ffb3b3"/>
<rect x="1346" y="204.1" width="53.1" height="187.5" fill="none" stroke="#000" stroke-width="2.2"/>
<circle cx="1320.3" cy="129.9" r="3.95" fill="rgba(0,0,255,0.57)" stroke="rgba(0,0,255,0.66)" stroke-width="1.8"/>
<circle cx="1314.5" cy="142.2" r="3.95" fill="rgba(0,0,255,0.57)" stroke="rgba(0,0,255,0.66)" stroke-width="1.8"/>
<circle cx="1324.5" cy="147.2" r="3.95" fill="rgba(0,0,255,0.57)" stroke="rgba(0,0,255,0.66)" stroke-width="1.8"/>
<circle cx="1329" cy="146.6" r="3.95" fill="rgba(0,0,255,0.57)" stroke="rgba(0,0,255,0.66)" stroke-width="1.8"/>
<circle cx="1315.5" cy="156.9" r="3.95" fill="rgba(0,0,255,0.57)" stroke="rgba(0,0,255,0.66)" stroke-width="1.8"/>
<circle cx="1322.2" cy="156.3" r="3.95" fill="rgba(0,0,255,0.57)" stroke="rgba(0,0,255,0.66)" stroke-width="1.8"/>
<circle cx="1313.9" cy="161.7" r="3.95" fill="rgba(0,0,255,0.57)" stroke="rgba(0,0,255,0.66)" stroke-width="1.8"/>
<circle cx="1303.3" cy="168.8" r="3.95" fill="rgba(0,0,255,0.57)" stroke="rgba(0,0,255,0.66)" stroke-width="1.8"/>
<circle cx="1319.3" cy="167.3" r="3.95" fill="rgba(0,0,255,0.57)" stroke="rgba(0,0,255,0.66)" stroke-width="1.8"/>
<circle cx="1335.7" cy="165.9" r="3.95" fill="rgba(0,0,255,0.57)" stroke="rgba(0,0,255,0.66)" stroke-width="1.8"/>
<circle cx="1311.6" cy="174" r="3.95" fill="rgba(0,0,255,0.57)" stroke="rgba(0,0,255,0.66)" stroke-width="1.8"/>
<circle cx="1311" cy="180.8" r="3.95" fill="rgba(0,0,255,0.57)" stroke="rgba(0,0,255,0.66)" stroke-width="1.8"/>
<circle cx="1331.9" cy="176.9" r="3.95" fill="rgba(0,0,255,0.57)" stroke="rgba(0,0,255,0.66)" stroke-width="1.8"/>
<circle cx="1319.7" cy="208.3" r="3.95" fill="rgba(0,0,255,0.57)" stroke="rgba(0,0,255,0.66)" stroke-width="1.8"/>
<circle cx="1325.9" cy="219.5" r="3.95" fill="rgba(0,0,255,0.57)" stroke="rgba(0,0,255,0.66)" stroke-width="1.8"/>
<circle cx="1376.3" cy="141" r="3.95" fill="rgba(255,0,0,0.57)" stroke="rgba(255,0,0,0.66)" stroke-width="1.8"/>
<circle cx="1380.5" cy="147.8" r="3.95" fill="rgba(255,0,0,0.57)" stroke="rgba(255,0,0,0.66)" stroke-width="1.8"/>
<circle cx="1374.7" cy="156.8" r="3.95" fill="rgba(255,0,0,0.57)" stroke="rgba(255,0,0,0.66)" stroke-width="1.8"/>
<circle cx="1375.7" cy="171.3" r="3.95" fill="rgba(255,0,0,0.57)" stroke="rgba(255,0,0,0.66)" stroke-width="1.8"/>
<circle cx="1371.8" cy="174.2" r="3.95" fill="rgba(255,0,0,0.57)" stroke="rgba(255,0,0,0.66)" stroke-width="1.8"/>
<circle cx="1385.7" cy="171.3" r="3.95" fill="rgba(255,0,0,0.57)" stroke="rgba(255,0,0,0.66)" stroke-width="1.8"/>
<circle cx="1382.8" cy="181.9" r="3.95" fill="rgba(255,0,0,0.57)" stroke="rgba(255,0,0,0.66)" stroke-width="1.8"/>
<circle cx="1363.5" cy="183.8" r="3.95" fill="rgba(255,0,0,0.57)" stroke="rgba(255,0,0,0.66)" stroke-width="1.8"/>
<circle cx="1362.8" cy="190.6" r="3.95" fill="rgba(255,0,0,0.57)" stroke="rgba(255,0,0,0.66)" stroke-width="1.8"/>
<circle cx="1361.6" cy="220.8" r="3.95" fill="rgba(255,0,0,0.57)" stroke="rgba(255,0,0,0.66)" stroke-width="1.8"/>
<circle cx="1364.1" cy="228.2" r="3.95" fill="rgba(255,0,0,0.57)" stroke="rgba(255,0,0,0.66)" stroke-width="1.8"/>
<circle cx="1381.5" cy="237.8" r="3.95" fill="rgba(255,0,0,0.57)" stroke="rgba(255,0,0,0.66)" stroke-width="1.8"/>
<circle cx="1389.2" cy="235.3" r="3.95" fill="rgba(255,0,0,0.57)" stroke="rgba(255,0,0,0.66)" stroke-width="1.8"/>
<circle cx="1355.8" cy="280.6" r="3.95" fill="rgba(255,0,0,0.57)" stroke="rgba(255,0,0,0.66)" stroke-width="1.8"/>
<circle cx="1357.6" cy="348.3" r="3.95" fill="rgba(255,0,0,0.57)" stroke="rgba(255,0,0,0.66)" stroke-width="1.8"/>
<line x1="1346" y1="509.8" x2="1346" y2="514.8" stroke="#000" stroke-width="1.8"/>
<path d="M1471.2,315.9 V293.6 M1464.3,293.6 H1478.1" stroke="#000" stroke-width="2.2" fill="none"/>
<rect x="1444.65" y="315.9" width="53.1" height="75.7" fill="#b3b3ff"/>
<path clip-path="url(#c7)" d="M1441.65,299.29 L1500.75,240.19 M1441.65,332.41 L1500.75,273.31 M1441.65,365.53 L1500.75,306.43 M1441.65,398.65 L1500.75,339.55 M1441.65,431.77 L1500.75,372.67 M1441.65,464.89 L1500.75,405.79" stroke="#000" stroke-width="1.45" fill="none"/>
<rect x="1444.65" y="315.9" width="53.1" height="75.7" fill="none" stroke="#000" stroke-width="2.2"/>
<path d="M1524.3,342.7 V296.4 M1517.4,296.4 H1531.2" stroke="#000" stroke-width="2.2" fill="none"/>
<rect x="1497.75" y="342.7" width="53.1" height="48.9" fill="#ffb3b3"/>
<rect x="1497.75" y="342.7" width="53.1" height="48.9" fill="none" stroke="#000" stroke-width="2.2"/>
<circle cx="1471.3" cy="273.3" r="3.95" fill="rgba(0,0,255,0.57)" stroke="rgba(0,0,255,0.66)" stroke-width="1.8"/>
<circle cx="1481" cy="291.3" r="3.95" fill="rgba(0,0,255,0.57)" stroke="rgba(0,0,255,0.66)" stroke-width="1.8"/>
<circle cx="1466.3" cy="295.9" r="3.95" fill="rgba(0,0,255,0.57)" stroke="rgba(0,0,255,0.66)" stroke-width="1.8"/>
<circle cx="1472.3" cy="295.1" r="3.95" fill="rgba(0,0,255,0.57)" stroke="rgba(0,0,255,0.66)" stroke-width="1.8"/>
<circle cx="1466.5" cy="301.7" r="3.95" fill="rgba(0,0,255,0.57)" stroke="rgba(0,0,255,0.66)" stroke-width="1.8"/>
<circle cx="1477.9" cy="308" r="3.95" fill="rgba(0,0,255,0.57)" stroke="rgba(0,0,255,0.66)" stroke-width="1.8"/>
<circle cx="1483.9" cy="306.5" r="3.95" fill="rgba(0,0,255,0.57)" stroke="rgba(0,0,255,0.66)" stroke-width="1.8"/>
<circle cx="1466.9" cy="320" r="3.95" fill="rgba(0,0,255,0.57)" stroke="rgba(0,0,255,0.66)" stroke-width="1.8"/>
<circle cx="1474" cy="321.5" r="3.95" fill="rgba(0,0,255,0.57)" stroke="rgba(0,0,255,0.66)" stroke-width="1.8"/>
<circle cx="1487.5" cy="320" r="3.95" fill="rgba(0,0,255,0.57)" stroke="rgba(0,0,255,0.66)" stroke-width="1.8"/>
<circle cx="1463" cy="332.7" r="3.95" fill="rgba(0,0,255,0.57)" stroke="rgba(0,0,255,0.66)" stroke-width="1.8"/>
<circle cx="1476.1" cy="332.7" r="3.95" fill="rgba(0,0,255,0.57)" stroke="rgba(0,0,255,0.66)" stroke-width="1.8"/>
<circle cx="1455.7" cy="338.9" r="3.95" fill="rgba(0,0,255,0.57)" stroke="rgba(0,0,255,0.66)" stroke-width="1.8"/>
<circle cx="1462.6" cy="340.2" r="3.95" fill="rgba(0,0,255,0.57)" stroke="rgba(0,0,255,0.66)" stroke-width="1.8"/>
<circle cx="1471.7" cy="357.2" r="3.95" fill="rgba(0,0,255,0.57)" stroke="rgba(0,0,255,0.66)" stroke-width="1.8"/>
<circle cx="1523.7" cy="293.9" r="3.95" fill="rgba(255,0,0,0.57)" stroke="rgba(255,0,0,0.66)" stroke-width="1.8"/>
<circle cx="1514.7" cy="298.9" r="3.95" fill="rgba(255,0,0,0.57)" stroke="rgba(255,0,0,0.66)" stroke-width="1.8"/>
<circle cx="1526.6" cy="300.8" r="3.95" fill="rgba(255,0,0,0.57)" stroke="rgba(255,0,0,0.66)" stroke-width="1.8"/>
<circle cx="1528.6" cy="306" r="3.95" fill="rgba(255,0,0,0.57)" stroke="rgba(255,0,0,0.66)" stroke-width="1.8"/>
<circle cx="1527" cy="308.5" r="3.95" fill="rgba(255,0,0,0.57)" stroke="rgba(255,0,0,0.66)" stroke-width="1.8"/>
<circle cx="1515.1" cy="325.3" r="3.95" fill="rgba(255,0,0,0.57)" stroke="rgba(255,0,0,0.66)" stroke-width="1.8"/>
<circle cx="1532" cy="326.7" r="3.95" fill="rgba(255,0,0,0.57)" stroke="rgba(255,0,0,0.66)" stroke-width="1.8"/>
<circle cx="1537.2" cy="327.6" r="3.95" fill="rgba(255,0,0,0.57)" stroke="rgba(255,0,0,0.66)" stroke-width="1.8"/>
<circle cx="1534.9" cy="339.8" r="3.95" fill="rgba(255,0,0,0.57)" stroke="rgba(255,0,0,0.66)" stroke-width="1.8"/>
<circle cx="1516" cy="345.6" r="3.95" fill="rgba(255,0,0,0.57)" stroke="rgba(255,0,0,0.66)" stroke-width="1.8"/>
<circle cx="1533.4" cy="352.3" r="3.95" fill="rgba(255,0,0,0.57)" stroke="rgba(255,0,0,0.66)" stroke-width="1.8"/>
<circle cx="1513.5" cy="357.5" r="3.95" fill="rgba(255,0,0,0.57)" stroke="rgba(255,0,0,0.66)" stroke-width="1.8"/>
<circle cx="1540.5" cy="373.5" r="3.95" fill="rgba(255,0,0,0.57)" stroke="rgba(255,0,0,0.66)" stroke-width="1.8"/>
<circle cx="1509.5" cy="434.2" r="3.95" fill="rgba(255,0,0,0.57)" stroke="rgba(255,0,0,0.66)" stroke-width="1.8"/>
<circle cx="1507.6" cy="448" r="3.95" fill="rgba(255,0,0,0.57)" stroke="rgba(255,0,0,0.66)" stroke-width="1.8"/>
<line x1="1497.75" y1="509.8" x2="1497.75" y2="514.8" stroke="#000" stroke-width="1.8"/>
<path d="M1622.95,242.4 V218.3 M1616.05,218.3 H1629.85" stroke="#000" stroke-width="2.2" fill="none"/>
<rect x="1596.4" y="242.4" width="53.1" height="149.2" fill="#b3b3ff"/>
<path clip-path="url(#c8)" d="M1593.4,213.78 L1652.5,154.68 M1593.4,246.9 L1652.5,187.8 M1593.4,280.02 L1652.5,220.92 M1593.4,313.14 L1652.5,254.04 M1593.4,346.26 L1652.5,287.16 M1593.4,379.38 L1652.5,320.28 M1593.4,412.5 L1652.5,353.4 M1593.4,445.62 L1652.5,386.52 M1593.4,478.74 L1652.5,419.64" stroke="#000" stroke-width="1.45" fill="none"/>
<rect x="1596.4" y="242.4" width="53.1" height="149.2" fill="none" stroke="#000" stroke-width="2.2"/>
<path d="M1676.05,253.8 V228.7 M1669.15,228.7 H1682.95" stroke="#000" stroke-width="2.2" fill="none"/>
<rect x="1649.5" y="253.8" width="53.1" height="137.8" fill="#ffb3b3"/>
<rect x="1649.5" y="253.8" width="53.1" height="137.8" fill="none" stroke="#000" stroke-width="2.2"/>
<circle cx="1628.1" cy="206.4" r="3.95" fill="rgba(0,0,255,0.57)" stroke="rgba(0,0,255,0.66)" stroke-width="1.8"/>
<circle cx="1607.3" cy="221.2" r="3.95" fill="rgba(0,0,255,0.57)" stroke="rgba(0,0,255,0.66)" stroke-width="1.8"/>
<circle cx="1618.9" cy="228.2" r="3.95" fill="rgba(0,0,255,0.57)" stroke="rgba(0,0,255,0.66)" stroke-width="1.8"/>
<circle cx="1624.7" cy="225.7" r="3.95" fill="rgba(0,0,255,0.57)" stroke="rgba(0,0,255,0.66)" stroke-width="1.8"/>
<circle cx="1627.2" cy="226.6" r="3.95" fill="rgba(0,0,255,0.57)" stroke="rgba(0,0,255,0.66)" stroke-width="1.8"/>
<circle cx="1614.1" cy="230.9" r="3.95" fill="rgba(0,0,255,0.57)" stroke="rgba(0,0,255,0.66)" stroke-width="1.8"/>
<circle cx="1616" cy="234" r="3.95" fill="rgba(0,0,255,0.57)" stroke="rgba(0,0,255,0.66)" stroke-width="1.8"/>
<circle cx="1618.3" cy="238.2" r="3.95" fill="rgba(0,0,255,0.57)" stroke="rgba(0,0,255,0.66)" stroke-width="1.8"/>
<circle cx="1639.1" cy="237.6" r="3.95" fill="rgba(0,0,255,0.57)" stroke="rgba(0,0,255,0.66)" stroke-width="1.8"/>
<circle cx="1623.3" cy="242.4" r="3.95" fill="rgba(0,0,255,0.57)" stroke="rgba(0,0,255,0.66)" stroke-width="1.8"/>
<circle cx="1632.4" cy="246.9" r="3.95" fill="rgba(0,0,255,0.57)" stroke="rgba(0,0,255,0.66)" stroke-width="1.8"/>
<circle cx="1618.3" cy="252.1" r="3.95" fill="rgba(0,0,255,0.57)" stroke="rgba(0,0,255,0.66)" stroke-width="1.8"/>
<circle cx="1635.3" cy="261.7" r="3.95" fill="rgba(0,0,255,0.57)" stroke="rgba(0,0,255,0.66)" stroke-width="1.8"/>
<circle cx="1622.7" cy="285.1" r="3.95" fill="rgba(0,0,255,0.57)" stroke="rgba(0,0,255,0.66)" stroke-width="1.8"/>
<circle cx="1629.5" cy="302.4" r="3.95" fill="rgba(0,0,255,0.57)" stroke="rgba(0,0,255,0.66)" stroke-width="1.8"/>
<circle cx="1683.8" cy="212.7" r="3.95" fill="rgba(255,0,0,0.57)" stroke="rgba(255,0,0,0.66)" stroke-width="1.8"/>
<circle cx="1659.4" cy="223.9" r="3.95" fill="rgba(255,0,0,0.57)" stroke="rgba(255,0,0,0.66)" stroke-width="1.8"/>
<circle cx="1680" cy="226.2" r="3.95" fill="rgba(255,0,0,0.57)" stroke="rgba(255,0,0,0.66)" stroke-width="1.8"/>
<circle cx="1686.7" cy="233.6" r="3.95" fill="rgba(255,0,0,0.57)" stroke="rgba(255,0,0,0.66)" stroke-width="1.8"/>
<circle cx="1689.2" cy="235.5" r="3.95" fill="rgba(255,0,0,0.57)" stroke="rgba(255,0,0,0.66)" stroke-width="1.8"/>
<circle cx="1678.6" cy="247.1" r="3.95" fill="rgba(255,0,0,0.57)" stroke="rgba(255,0,0,0.66)" stroke-width="1.8"/>
<circle cx="1667.1" cy="250.5" r="3.95" fill="rgba(255,0,0,0.57)" stroke="rgba(255,0,0,0.66)" stroke-width="1.8"/>
<circle cx="1665.1" cy="255.7" r="3.95" fill="rgba(255,0,0,0.57)" stroke="rgba(255,0,0,0.66)" stroke-width="1.8"/>
<circle cx="1679" cy="254.8" r="3.95" fill="rgba(255,0,0,0.57)" stroke="rgba(255,0,0,0.66)" stroke-width="1.8"/>
<circle cx="1692.5" cy="252.8" r="3.95" fill="rgba(255,0,0,0.57)" stroke="rgba(255,0,0,0.66)" stroke-width="1.8"/>
<circle cx="1675.4" cy="271.7" r="3.95" fill="rgba(255,0,0,0.57)" stroke="rgba(255,0,0,0.66)" stroke-width="1.8"/>
<circle cx="1667.6" cy="274.1" r="3.95" fill="rgba(255,0,0,0.57)" stroke="rgba(255,0,0,0.66)" stroke-width="1.8"/>
<circle cx="1685.4" cy="277" r="3.95" fill="rgba(255,0,0,0.57)" stroke="rgba(255,0,0,0.66)" stroke-width="1.8"/>
<circle cx="1666.5" cy="283.7" r="3.95" fill="rgba(255,0,0,0.57)" stroke="rgba(255,0,0,0.66)" stroke-width="1.8"/>
<circle cx="1661.3" cy="305.5" r="3.95" fill="rgba(255,0,0,0.57)" stroke="rgba(255,0,0,0.66)" stroke-width="1.8"/>
<line x1="1649.5" y1="509.8" x2="1649.5" y2="514.8" stroke="#000" stroke-width="1.8"/>
<rect x="1243.3" y="37" width="500.9" height="472.8" fill="none" stroke="#000" stroke-width="2.2"/>
<line x1="1243.3" y1="509.8" x2="1248.3" y2="509.8" stroke="#000" stroke-width="1.8"/>
<text transform="translate(1238.1,522.3) scale(0.96,1)" font-size="37" text-anchor="end" stroke="#000" stroke-width="0.35">-10</text>
<line x1="1243.3" y1="391.6" x2="1248.3" y2="391.6" stroke="#000" stroke-width="1.8"/>
<text transform="translate(1238.1,404.1) scale(0.96,1)" font-size="37" text-anchor="end" stroke="#000" stroke-width="0.35">0</text>
<line x1="1243.3" y1="273.4" x2="1248.3" y2="273.4" stroke="#000" stroke-width="1.8"/>
<text transform="translate(1238.1,285.9) scale(0.96,1)" font-size="37" text-anchor="end" stroke="#000" stroke-width="0.35">10</text>
<line x1="1243.3" y1="155.2" x2="1248.3" y2="155.2" stroke="#000" stroke-width="1.8"/>
<text transform="translate(1238.1,167.7) scale(0.96,1)" font-size="37" text-anchor="end" stroke="#000" stroke-width="0.35">20</text>
<line x1="1243.3" y1="37" x2="1248.3" y2="37" stroke="#000" stroke-width="1.8"/>
<text transform="translate(1238.1,49.5) scale(0.96,1)" font-size="37" text-anchor="end" stroke="#000" stroke-width="0.35">30</text>
<text transform="translate(1493.75,29.0) scale(0.979,1)" font-size="39.5" font-weight="bold" text-anchor="middle">Superior (+) / Inferior (-)</text>
<text x="1346" y="542.3" font-size="33" font-weight="bold" text-anchor="middle">Max</text>
<text x="1497.75" y="542.3" font-size="33" font-weight="bold" text-anchor="middle">Min</text>
<text x="1649.5" y="542.3" font-size="33" font-weight="bold" text-anchor="middle">Displacement</text>
<path d="M1319.3,129.8 V119.1 H1372.3 V129.8" stroke="#000" stroke-width="2.2" fill="none"/>
<text x="1346.6" y="121" font-size="52" font-weight="900" text-anchor="middle" style="font-family:'Noto Serif CJK SC','Liberation Serif',serif">*</text>
<text transform="translate(28.9,272.8) rotate(-90) scale(0.975,1)" font-size="39.5" font-weight="bold" text-anchor="middle">Translation (mm)</text>
<rect x="714.5" y="591.3" width="77" height="27" fill="#b3b3ff"/>
<path clip-path="url(#c9)" d="M711.5,565.76 L794.5,482.76 M711.5,598.88 L794.5,515.88 M711.5,632 L794.5,549 M711.5,665.12 L794.5,582.12 M711.5,698.24 L794.5,615.24 M711.5,731.36 L794.5,648.36" stroke="#000" stroke-width="1.45" fill="none"/>
<rect x="714.5" y="591.3" width="77" height="27" fill="none" stroke="#000" stroke-width="2"/>
<text x="822.6" y="618.2" font-size="38.6" stroke="#000" stroke-width="0.35">FFS</text>
<rect x="964.3" y="591.3" width="77.2" height="27" fill="#ffb3b3" stroke="#000" stroke-width="2"/>
<text x="1072.8" y="618.2" font-size="38.6" stroke="#000" stroke-width="0.35">RFS</text>
</svg></body></html>
